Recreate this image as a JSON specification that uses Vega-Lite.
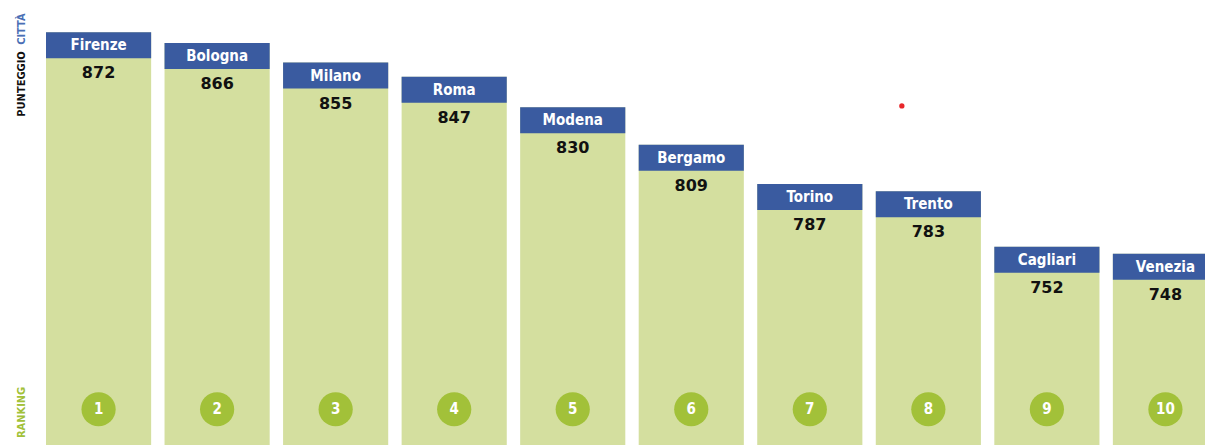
{
  "$schema": "https://vega.github.io/schema/vega-lite/v6.json",
  "width": 1172,
  "height": 445,
  "autosize": {"type": "none"},
  "padding": {"left": 46, "top": 0, "right": 0, "bottom": 0},
  "background": "#ffffff",
  "config": {"view": {"stroke": null}},
  "data": {
    "values": [
      {"city": "Firenze", "score": 872, "rank": 1},
      {"city": "Bologna", "score": 866, "rank": 2},
      {"city": "Milano", "score": 855, "rank": 3},
      {"city": "Roma", "score": 847, "rank": 4},
      {"city": "Modena", "score": 830, "rank": 5},
      {"city": "Bergamo", "score": 809, "rank": 6},
      {"city": "Torino", "score": 787, "rank": 7},
      {"city": "Trento", "score": 783, "rank": 8},
      {"city": "Cagliari", "score": 752, "rank": 9},
      {"city": "Venezia", "score": 748, "rank": 10}
    ]
  },
  "encoding": {
    "x": {
      "field": "city",
      "type": "nominal",
      "sort": null,
      "scale": {"paddingInner": 0.113, "paddingOuter": 0},
      "axis": null
    }
  },
  "layer": [
    {
      "mark": {"type": "bar", "color": "#d4df9f"},
      "encoding": {
        "y": {
          "field": "score",
          "type": "quantitative",
          "title": null,
          "scale": {"domain": [641, 890], "zero": false, "nice": false},
          "axis": {
            "values": [874, 843.3, 659.5],
            "labelExpr": "datum.value > 860 ? 'CITTÀ' : (datum.value > 800 ? 'PUNTEGGIO' : 'RANKING')",
            "labelAngle": -90,
            "labelFont": "DejaVu Sans Condensed",
            "labelFontWeight": "bold",
            "labelFontSize": 11,
            "labelPadding": 20,
            "labelOverlap": false,
            "labelBound": false,
            "labelFlush": false,
            "domain": false,
            "ticks": false,
            "grid": false,
            "labelColor": {
              "condition": [
                {"test": "datum.value > 860", "value": "#4a6fb5"},
                {"test": "datum.value < 700", "value": "#a2c139"}
              ],
              "value": "#111111"
            }
          }
        },
        "y2": {"datum": 641}
      }
    },
    {
      "mark": {"type": "bar", "color": "#3a5ba0", "y2Offset": 26},
      "encoding": {
        "y": {"field": "score", "type": "quantitative", "title": null},
        "y2": {"field": "score"}
      }
    },
    {
      "mark": {
        "type": "text",
        "color": "#ffffff",
        "font": "DejaVu Sans Condensed",
        "fontWeight": "bold",
        "fontSize": 15,
        "baseline": "middle",
        "yOffset": 13
      },
      "encoding": {
        "y": {"field": "score", "type": "quantitative", "title": null},
        "text": {"field": "city"}
      }
    },
    {
      "mark": {
        "type": "text",
        "color": "#111111",
        "font": "DejaVu Sans",
        "fontWeight": "bold",
        "fontSize": 16,
        "baseline": "middle",
        "yOffset": 41
      },
      "encoding": {
        "y": {"field": "score", "type": "quantitative", "title": null},
        "text": {"field": "score", "type": "quantitative", "format": "d"}
      }
    },
    {
      "mark": {"type": "point", "filled": true, "color": "#a2c139", "size": 1170, "opacity": 1},
      "encoding": {
        "y": {"datum": 661, "type": "quantitative", "title": null}
      }
    },
    {
      "mark": {
        "type": "text",
        "color": "#ffffff",
        "font": "DejaVu Sans Condensed",
        "fontWeight": "bold",
        "fontSize": 15,
        "baseline": "middle"
      },
      "encoding": {
        "y": {"datum": 661, "type": "quantitative", "title": null},
        "text": {"field": "rank", "type": "quantitative", "format": "d"}
      }
    },
    {
      "data": {"values": [{"city": "Trento", "y": 830.7}]},
      "mark": {"type": "point", "filled": true, "color": "#e8262a", "size": 28, "opacity": 1, "xOffset": -26.5},
      "encoding": {
        "y": {"field": "y", "type": "quantitative", "title": null}
      }
    }
  ]
}
